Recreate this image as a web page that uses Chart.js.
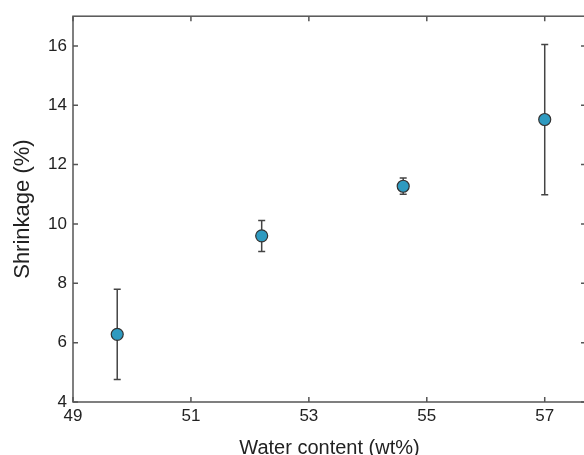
<!DOCTYPE html>
<html>
<head>
<meta charset="utf-8">
<script src="https://cdn.jsdelivr.net/npm/chart.js@4"></script>
<style>
  html, body { margin: 0; padding: 0; background: #fff; overflow: hidden; }
  #wrap { width: 600px; height: 460px; }
</style>
</head>
<body>
<div id="wrap"><canvas id="chart"></canvas></div>
<script>
const waterContent = [49.75, 52.2, 54.6, 57.0];
const shrinkage    = [6.28, 9.6, 11.27, 13.52];
const errLow       = [4.76, 9.07, 11.0, 10.98];
const errHigh      = [7.8, 10.12, 11.55, 16.05];
const xTicks = [49, 51, 53, 55, 57];
const yTicks = [4, 6, 8, 10, 12, 14, 16];

const axisColor = '#555';
const font = 'Liberation Sans, Arial, sans-serif';

// error bars under the markers, frame + inward ticks on top
const errorBars = {
  id: 'errorBars',
  beforeDatasetsDraw(chart) {
    const { ctx, scales: { x, y } } = chart;
    ctx.save();
    ctx.strokeStyle = '#444';
    ctx.lineWidth = 1.5;
    waterContent.forEach((w, i) => {
      const px = x.getPixelForValue(w);
      const lo = y.getPixelForValue(errLow[i]);
      const hi = y.getPixelForValue(errHigh[i]);
      ctx.beginPath();
      ctx.moveTo(px, lo); ctx.lineTo(px, hi);
      ctx.moveTo(px - 3.5, lo); ctx.lineTo(px + 3.5, lo);
      ctx.moveTo(px - 3.5, hi); ctx.lineTo(px + 3.5, hi);
      ctx.stroke();
    });
    ctx.restore();
  },
  afterDraw(chart) {
    const { ctx, chartArea: a, scales: { x, y } } = chart;
    ctx.save();
    ctx.strokeStyle = axisColor;
    ctx.lineWidth = 1.5;
    ctx.strokeRect(a.left, a.top, a.right - a.left, a.bottom - a.top);
    ctx.beginPath();
    xTicks.forEach(v => {
      const px = x.getPixelForValue(v);
      ctx.moveTo(px, a.bottom); ctx.lineTo(px, a.bottom - 5);
      ctx.moveTo(px, a.top); ctx.lineTo(px, a.top + 5);
    });
    yTicks.forEach(v => {
      const py = y.getPixelForValue(v);
      ctx.moveTo(a.left, py); ctx.lineTo(a.left + 5, py);
      ctx.moveTo(a.right, py); ctx.lineTo(a.right - 5, py);
    });
    ctx.stroke();
    ctx.restore();
  }
};

new Chart(document.getElementById('chart'), {
  type: 'scatter',
  data: {
    datasets: [{
      data: waterContent.map((w, i) => ({ x: w, y: shrinkage[i] })),
      backgroundColor: '#2e9ac0',
      borderColor: '#333',
      borderWidth: 1.2,
      pointRadius: 6,
      pointHoverRadius: 6,
    }]
  },
  options: {
    responsive: true,
    maintainAspectRatio: false,
    animation: false,
    layout: { padding: { top: 16, right: 14, left: 0, bottom: 0 } },
    plugins: { legend: { display: false }, tooltip: { enabled: false } },
    scales: {
      x: {
        type: 'linear', min: 49, max: 57.7,
        afterBuildTicks: s => { s.ticks = xTicks.map(v => ({ value: v })); },
        afterFit: s => { s.height = 58; },
        grid: { display: false, drawTicks: false },
        border: { display: false },
        ticks: { color: '#222', padding: 4, font: { family: font, size: 17 } },
        title: {
          display: true, text: 'Water content (wt%)', color: '#222',
          font: { family: font, size: 20 }, padding: { top: 0, bottom: 0 }
        }
      },
      y: {
        type: 'linear', min: 4, max: 17,
        afterBuildTicks: s => { s.ticks = yTicks.map(v => ({ value: v })); },
        afterFit: s => { s.width = 73; },
        grid: { display: false, drawTicks: false },
        border: { display: false },
        ticks: { color: '#222', padding: 6, font: { family: font, size: 17 } },
        title: {
          display: true, text: 'Shrinkage (%)', color: '#222',
          font: { family: font, size: 22 }, padding: { top: 10, bottom: 0 }
        }
      }
    }
  },
  plugins: [errorBars]
});
</script>
</body>
</html>
